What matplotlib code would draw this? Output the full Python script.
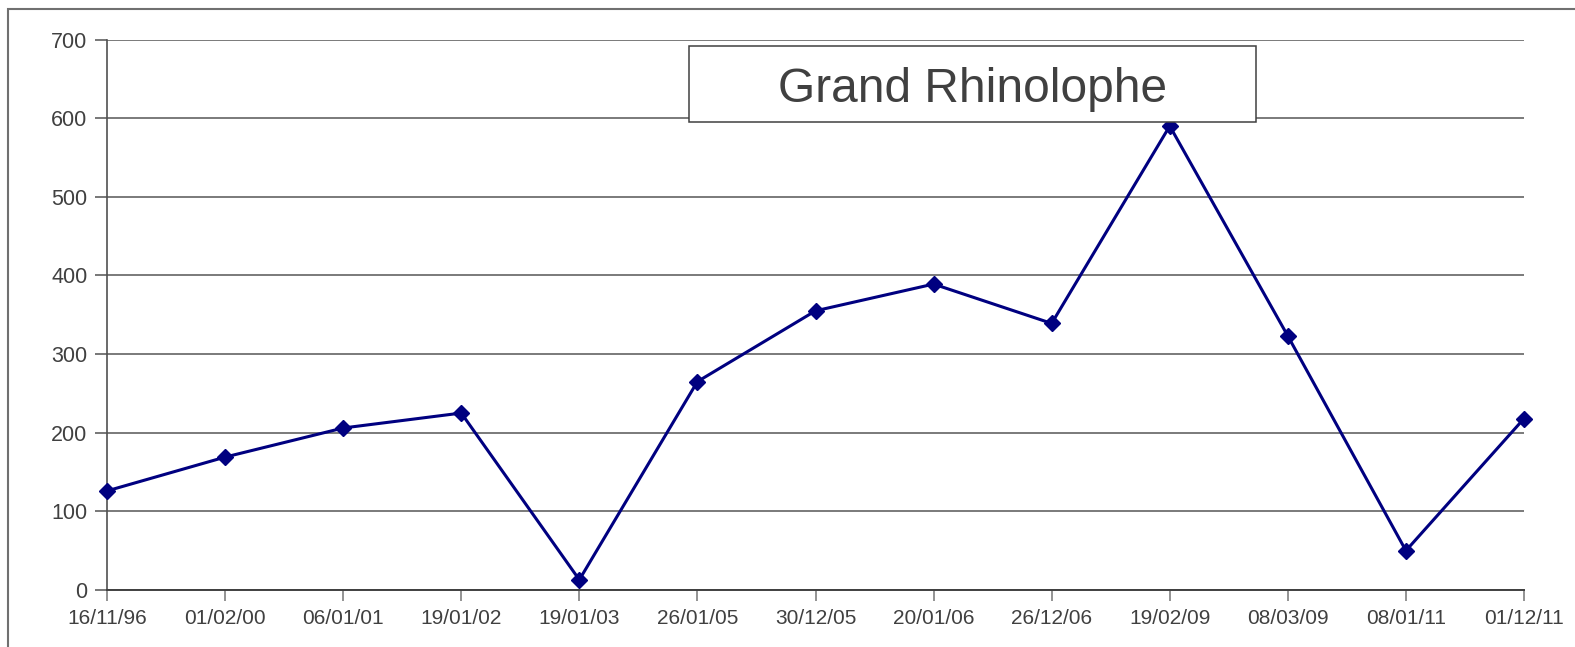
import matplotlib
matplotlib.use("Agg")
import matplotlib.pyplot as plt
from matplotlib.patches import Rectangle

dates = ["16/11/96", "01/02/00", "06/01/01", "19/01/02", "19/01/03", "26/01/05",
         "30/12/05", "20/01/06", "26/12/06", "19/02/09", "08/03/09", "08/01/11", "01/12/11"]
counts = [126, 169, 206, 225, 13, 265, 355, 389, 339, 590, 323, 50, 218]
yticks = [0, 100, 200, 300, 400, 500, 600, 700]
title = "Grand Rhinolophe"

plt.rcParams['font.family'] = ['Liberation Sans', 'DejaVu Sans']

W, H = 1575, 647
fig = plt.figure(figsize=(W / 100, H / 100), dpi=100)
fig.patch.set_facecolor("white")

left, right, top, bottom = 107, 1524, 39.5, 590
ax = fig.add_axes([left / W, (H - bottom) / H, (right - left) / W, (bottom - top) / H])

x = list(range(len(dates)))
ax.plot(x, counts, color="#000080", linewidth=2.2, marker="D", markersize=8,
        markerfacecolor="#000080", markeredgecolor="#000080", zorder=5, clip_on=False)

ax.set_xlim(0, len(dates) - 1)
ax.set_ylim(0, 700)
ax.set_yticks(yticks)
ax.set_xticks(x)
ax.set_xticklabels(dates)
ax.yaxis.grid(True, color="#707070", linewidth=1.3)
ax.set_axisbelow(True)

for s in ["top", "right"]:
    ax.spines[s].set_visible(False)
ax.spines["left"].set_color("#505050")
ax.spines["bottom"].set_color("#404040")
ax.spines["left"].set_linewidth(1.2)
ax.spines["bottom"].set_linewidth(1.4)

ax.tick_params(axis="y", length=8.6, width=1.2, color="#606060", pad=5.5,
               labelsize=15.5, labelcolor="#404040")
ax.tick_params(axis="x", length=8, width=1.2, color="#808080", pad=6,
               labelsize=15, labelcolor="#404040")
ax.set_facecolor("white")

# outer border
fig.patches.append(Rectangle((8 / W, -0.1), 1.2, (H - 8.5) / H + 0.1,
                             transform=fig.transFigure, fill=False,
                             edgecolor="#707070", linewidth=1.5, zorder=0))

# title box
bx0, bx1, by0, by1 = 689, 1256, 46, 122
fig.patches.append(Rectangle((bx0 / W, (H - by1) / H), (bx1 - bx0) / W, (by1 - by0) / H,
                             transform=fig.transFigure, facecolor="white",
                             edgecolor="#404040", linewidth=1.1, zorder=10))
fig.text((bx0 + bx1) / 2 / W, (H - 101.5) / H, title, ha="center", va="baseline",
         fontsize=34.5, color="#404040", zorder=11)

fig.savefig("out.png", dpi=100)
